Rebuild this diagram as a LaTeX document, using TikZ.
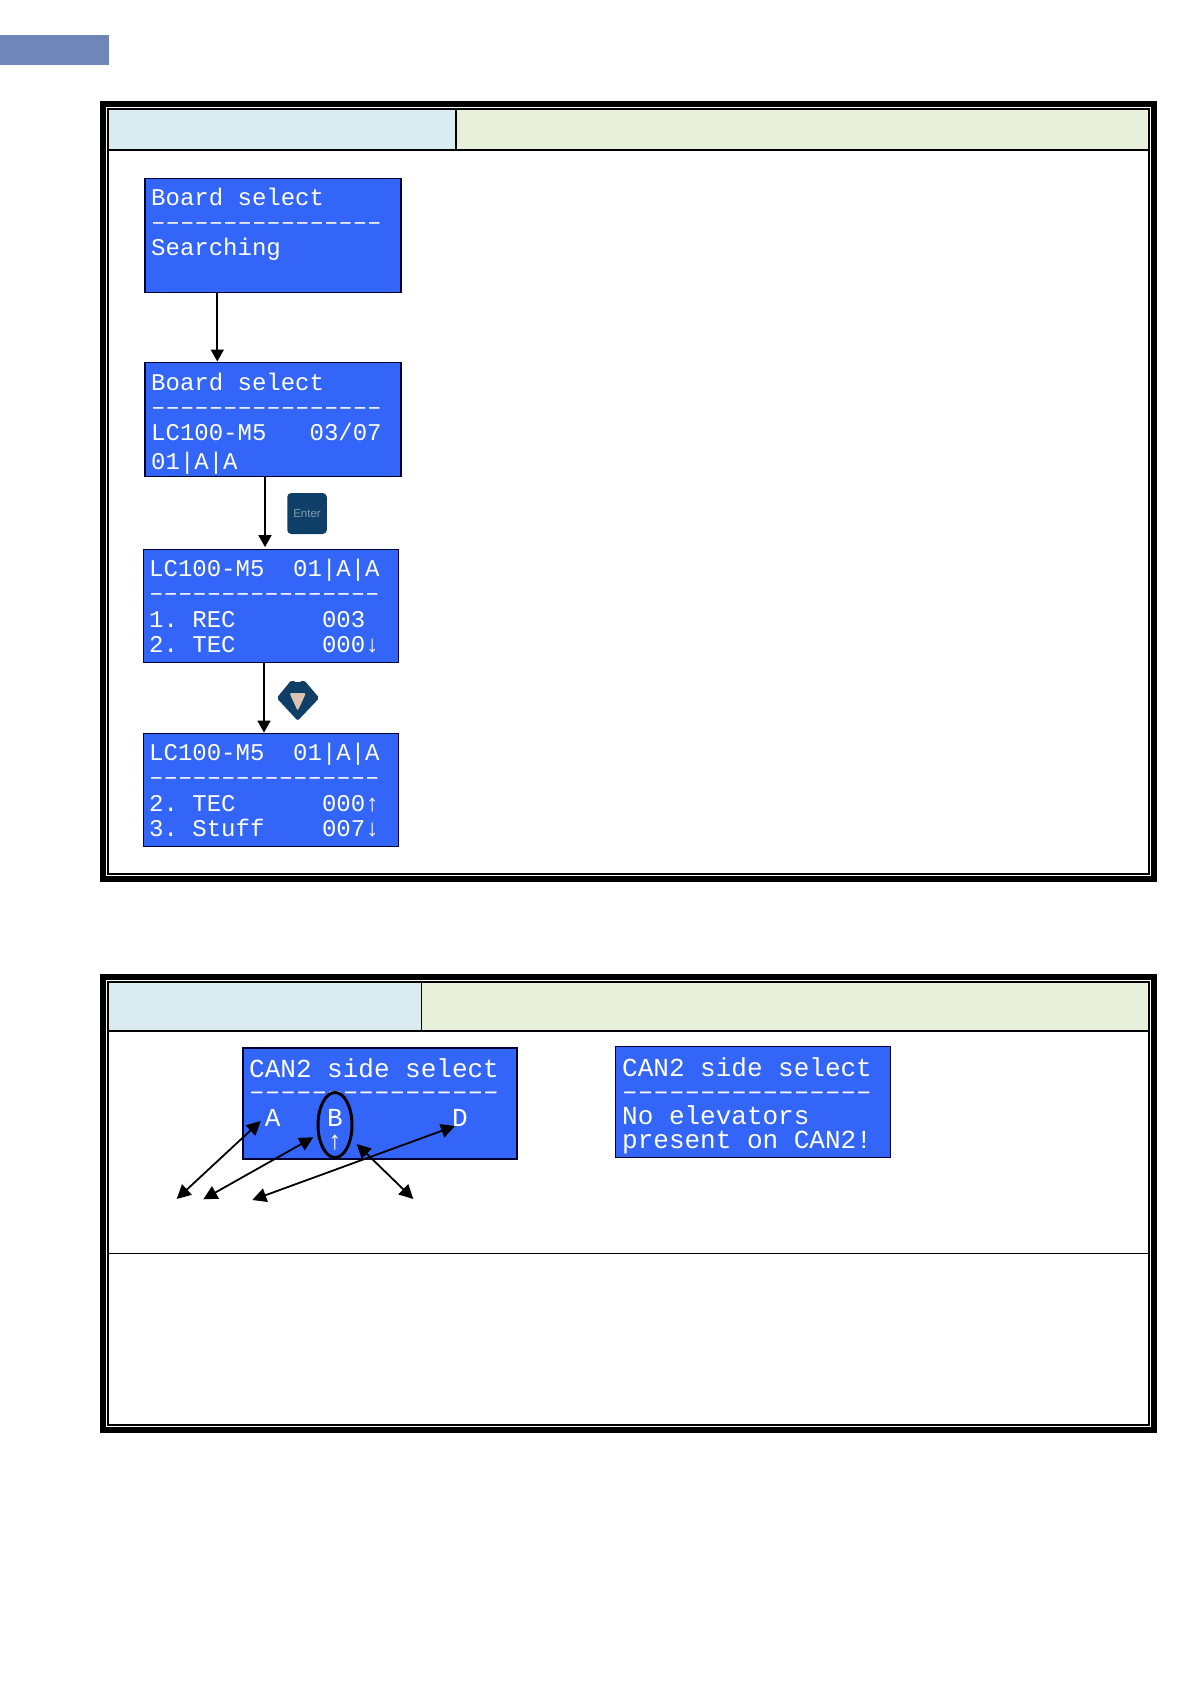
\documentclass[tikz,border=0pt]{standalone}
\usepackage{fontspec}
\usetikzlibrary{arrows.meta,shapes.geometric}
\newfontfamily\lcdface{Liberation Mono}
\setsansfont{Liberation Sans}
\definecolor{lcdblue}{HTML}{3366F8}
\definecolor{lcdedge}{HTML}{000030}
\definecolor{hdrleft}{HTML}{D9ECF0}
\definecolor{hdrright}{HTML}{E8F0DC}
\definecolor{tabblue}{HTML}{7085B8}
\definecolor{keynavy}{HTML}{0F3F66}
\definecolor{keytext}{HTML}{7F9FB0}
\definecolor{keybeige}{HTML}{D8C4B0}
\tikzset{
  lcdbox/.style={draw=lcdedge,fill=lcdblue,line width=1.2pt},
  lcdline/.style={anchor=base west,inner sep=0pt,text=white,font=\lcdface\fontsize{24}{24}\selectfont},
  lcdwide/.style={anchor=base west,inner sep=0pt,text=white,font=\lcdface\fontsize{26}{26}\selectfont},
  flow/.style={draw=black,line width=1.8pt,-{Triangle[length=12pt,width=13pt]}},
  both/.style={draw=black,line width=1.8pt,{Triangle[length=14pt,width=14pt]}-{Triangle[length=14pt,width=14pt]}},
  framein/.style={draw=black,line width=1.4pt,fill=white},
  hdrline/.style={draw=black,line width=1.5pt},
}
\begin{document}
\begin{tikzpicture}[x=1pt,y=-1pt]
\useasboundingbox (0,0) rectangle (1191,1684);
\fill[white] (0,0) rectangle (1191,1684);
\fill[tabblue] (0,35) rectangle (109,65);

% frame 1
\fill[black] (100,101) rectangle (1157,882);
\fill[white] (106,107) rectangle (1151,876);
\draw[framein] (108,109) rectangle (1149,874);
\fill[hdrleft] (108.7,109.7) rectangle (456,150);
\fill[hdrright] (456,109.7) rectangle (1148.3,150);
\draw[hdrline] (108,150) -- (1149,150);
\draw[hdrline] (456,109) -- (456,150);

% frame 2
\fill[black] (100,974) rectangle (1157,1433);
\fill[white] (106,980) rectangle (1151,1427);
\draw[framein] (108,982) rectangle (1149,1425);
\fill[hdrleft] (108.7,982.7) rectangle (421.7,1031);
\fill[hdrright] (421.7,982.7) rectangle (1148.3,1031);
\draw[hdrline] (108,1031) -- (1149,1031);
\draw[draw=black,line width=1pt] (421.7,982) -- (421.7,1031);
\draw[draw=black,line width=1pt] (108,1253) -- (1149,1253);

% LCD boxes
\node[lcdbox,line width=1.6pt,minimum width=256pt,minimum height=114pt,inner sep=0pt] (boxa) at (272.7,235.3) {};
\node[lcdbox,line width=1.6pt,minimum width=256pt,minimum height=114pt,inner sep=0pt] (boxb) at (272.7,419.3) {};
\node[lcdbox,minimum width=255pt,minimum height=113pt,inner sep=0pt] (boxc) at (271,605.7) {};
\node[lcdbox,minimum width=255pt,minimum height=113pt,inner sep=0pt] (boxd) at (271,789.7) {};
\node[lcdbox,line width=1.8pt,minimum width=274pt,minimum height=111pt,inner sep=0pt] (boxe) at (380,1103.7) {};
\node[lcdbox,minimum width=275pt,minimum height=111pt,inner sep=0pt] (boxf) at (752.7,1101.7) {};

% box a
\node[lcdline] (a1) at (151,205) {Board~select};
\node[lcdline] (a2) at (151,229) {––––––––––––––––};
\node[lcdline] (a3) at (151,255) {Searching};
% box b
\node[lcdline] (b1) at (151,390) {Board~select};
\node[lcdline] (b2) at (151,414) {––––––––––––––––};
\node[lcdline] (b3) at (151,440) {LC100-M5~~~03/07};
\node[lcdline] (b4) at (151,469) {01|A|A};
% box c
\node[lcdline] (c1) at (149,576) {LC100-M5~~01|A|A};
\node[lcdline] (c2) at (149,600) {––––––––––––––––};
\node[lcdline] (c3) at (149,627) {1.~REC~~~~~~003};
\node[lcdline] (c4) at (149,652) {2.~TEC~~~~~~000↓};
% box d
\node[lcdline] (d1) at (149,760) {LC100-M5~~01|A|A};
\node[lcdline] (d2) at (149,784) {––––––––––––––––};
\node[lcdline] (d3) at (149,811) {2.~TEC~~~~~~000↑};
\node[lcdline] (d4) at (149,836) {3.~Stuff~~~~007↓};
% box e
\node[lcdwide] (e1) at (249,1077) {CAN2~side~select};
\node[lcdwide] (e2) at (249,1099) {––––––––––––––––};
\node[lcdwide] (e3) at (249,1126) {~A~~~B~~~~~~~D};
\node[lcdwide] (e4) at (249,1149) {~~~~~↑};
% box f
\node[lcdwide] (f1) at (622,1076) {CAN2~side~select};
\node[lcdwide] (f2) at (622,1099) {––––––––––––––––};
\node[lcdwide] (f3) at (622,1124) {No~elevators};
\node[lcdwide] (f4) at (622,1148) {present~on~CAN2!};

% flow arrows
\coordinate (xa) at (217.3,0);
\coordinate (xb) at (265,0);
\coordinate (xc) at (264,0);
\draw[flow] (boxa.south -| xa) -- (boxb.north -| xa);
\draw[flow] (boxb.south -| xb) -- ([yshift=1.5pt]boxc.north -| xb);
\draw[flow] (boxc.south -| xc) -- (boxd.north -| xc);

% keys
\node[draw=none,fill=keynavy,rounded corners=4pt,minimum width=39.5pt,minimum height=41pt,inner sep=0pt,text=keytext,font=\sffamily\fontsize{11.5}{12}\selectfont] (enterkey) at (307,513.5) {Enter};
\fill[keynavy,rounded corners=2pt] (276.7,698) -- (291.5,680) -- (297.7,683) -- (304,680) -- (319.3,698) -- (297.7,720.7) -- cycle;
\fill[keybeige,rounded corners=1.5pt] (289.5,693) -- (306,693) -- (297.7,711) -- cycle;

% side selector
\node[draw=black,line width=3pt,ellipse,minimum width=34pt,minimum height=65pt,inner sep=0pt] (sel) at (335,1125) {};
\coordinate (ltA) at (176.7,1199);
\coordinate (ltB) at (203.3,1199.3);
\coordinate (ltD) at (252.3,1200);
\coordinate (ltC) at (413.3,1199);
\coordinate (toA) at (260.7,1121);
\coordinate (toB) at (313.3,1137.3);
\coordinate (toD) at (455,1126);
\coordinate (toC) at (356.7,1144);
\draw[both] (ltA) -- (toA);
\draw[both] (ltB) -- (toB);
\draw[both] (ltD) -- (toD);
\draw[both] (ltC) -- (toC);
\end{tikzpicture}
\end{document}
